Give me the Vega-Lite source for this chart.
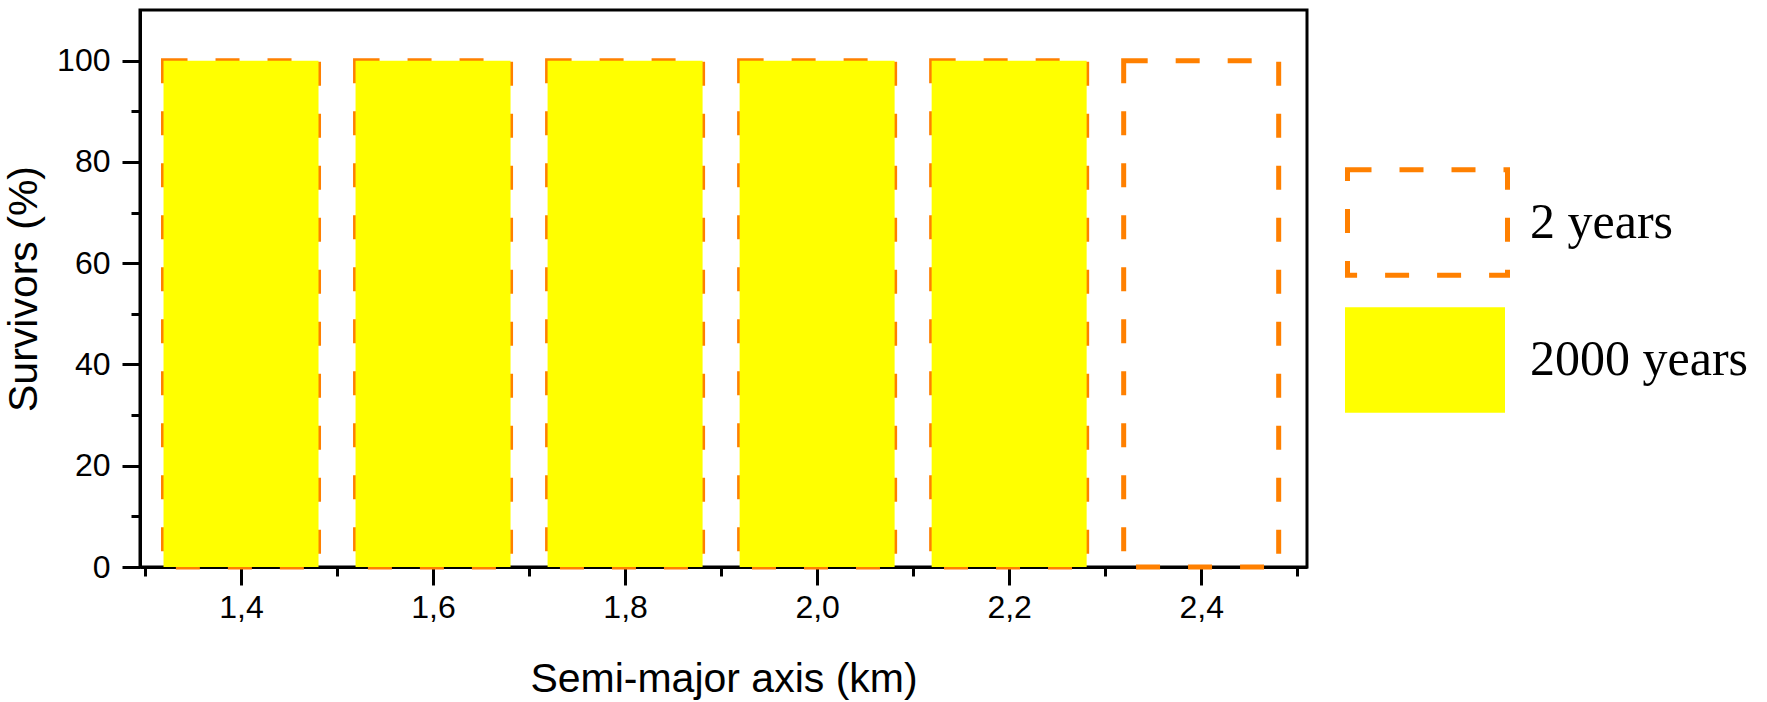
{
  "$schema": "https://vega.github.io/schema/vega-lite/v6.json",
  "width": 1167,
  "height": 557,
  "autosize": {"type": "none"},
  "padding": {"left": 140, "top": 10, "right": 460, "bottom": 135},
  "background": "white",
  "config": {
    "view": {"stroke": "black", "strokeWidth": 3},
    "axis": {
      "domainColor": "black", "domainWidth": 3,
      "tickColor": "black", "tickWidth": 3,
      "labelColor": "black", "labelFont": "Liberation Sans", "labelFontSize": 32,
      "titleFont": "Liberation Sans", "titleFontSize": 41, "titleFontWeight": "normal", "titleColor": "black",
      "grid": false, "zindex": 1
    },
    "legend": {
      "orient": "none", "title": null, "padding": 0,
      "symbolType": "M-1,-0.66H1V0.66H-1Z", "symbolSize": 25600,
      "labelFont": "Liberation Serif", "labelFontSize": 50, "labelColor": "black",
      "labelOffset": 25, "labelLimit": 0
    }
  },
  "data": {
    "values": [
      {"a": 1.4, "s": 100, "series": "2 years"},
      {"a": 1.6, "s": 100, "series": "2 years"},
      {"a": 1.8, "s": 100, "series": "2 years"},
      {"a": 2.0, "s": 100, "series": "2 years"},
      {"a": 2.2, "s": 100, "series": "2 years"},
      {"a": 2.4, "s": 100, "series": "2 years"},
      {"a": 1.4, "s": 100, "series": "2000 years"},
      {"a": 1.6, "s": 100, "series": "2000 years"},
      {"a": 1.8, "s": 100, "series": "2000 years"},
      {"a": 2.0, "s": 100, "series": "2000 years"},
      {"a": 2.2, "s": 100, "series": "2000 years"},
      {"a": 2.4, "s": 0, "series": "2000 years"}
    ]
  },
  "layer": [
    {
      "transform": [{"filter": "datum.series === '2 years'"}],
      "mark": {"type": "bar", "width": 155, "fill": "rgba(0,0,0,0)", "strokeWidth": 5, "strokeDash": [24, 28]},
      "encoding": {
        "x": {
          "field": "a", "type": "quantitative",
          "scale": {"domain": [1.3, 2.505], "nice": false, "zero": false},
          "axis": {
            "orient": "bottom",
            "values": [1.3, 1.4, 1.5, 1.6, 1.7, 1.8, 1.9, 2.0, 2.1, 2.2, 2.3, 2.4, 2.5],
            "tickSize": {"condition": {"test": "round(datum.value*10)%2===0", "value": 18}, "value": 9},
            "labelPadding": 7,
            "labelExpr": "round(datum.value*10)%2===0 ? replace(format(datum.value,'.1f'),'.',',') : ''",
            "title": "Semi-major axis (km)",
            "titlePadding": 36
          }
        },
        "y": {
          "field": "s", "type": "quantitative",
          "scale": {"domain": [0, 110], "nice": false},
          "axis": {
            "orient": "left",
            "values": [0, 10, 20, 30, 40, 50, 60, 70, 80, 90, 100],
            "tickSize": {"condition": {"test": "datum.value%20===0", "value": 18}, "value": 9},
            "labelPadding": 12,
            "labelExpr": "datum.value%20===0 ? datum.label : ''",
            "title": "Survivors (%)",
            "titlePadding": 11
          }
        },
        "stroke": {
          "field": "series", "type": "nominal",
          "scale": {"domain": ["2 years"], "range": ["#FF8000"]},
          "legend": {
            "legendX": 1205, "legendY": 130,
            "labelOffset": 20,
            "symbolStrokeWidth": 5, "symbolDash": [24, 28],
            "symbolFillColor": "rgba(0,0,0,0)"
          }
        }
      }
    },
    {
      "transform": [{"filter": "datum.series === '2000 years'"}],
      "mark": {"type": "bar", "width": 155},
      "encoding": {
        "x": {"field": "a", "type": "quantitative"},
        "y": {"field": "s", "type": "quantitative"},
        "fill": {
          "field": "series", "type": "nominal",
          "scale": {"domain": ["2000 years"], "range": ["#FFFF00"]},
          "legend": {
            "legendX": 1205, "legendY": 270,
            "symbolStrokeWidth": 0, "symbolStrokeColor": "rgba(0,0,0,0)"
          }
        }
      }
    }
  ]
}
